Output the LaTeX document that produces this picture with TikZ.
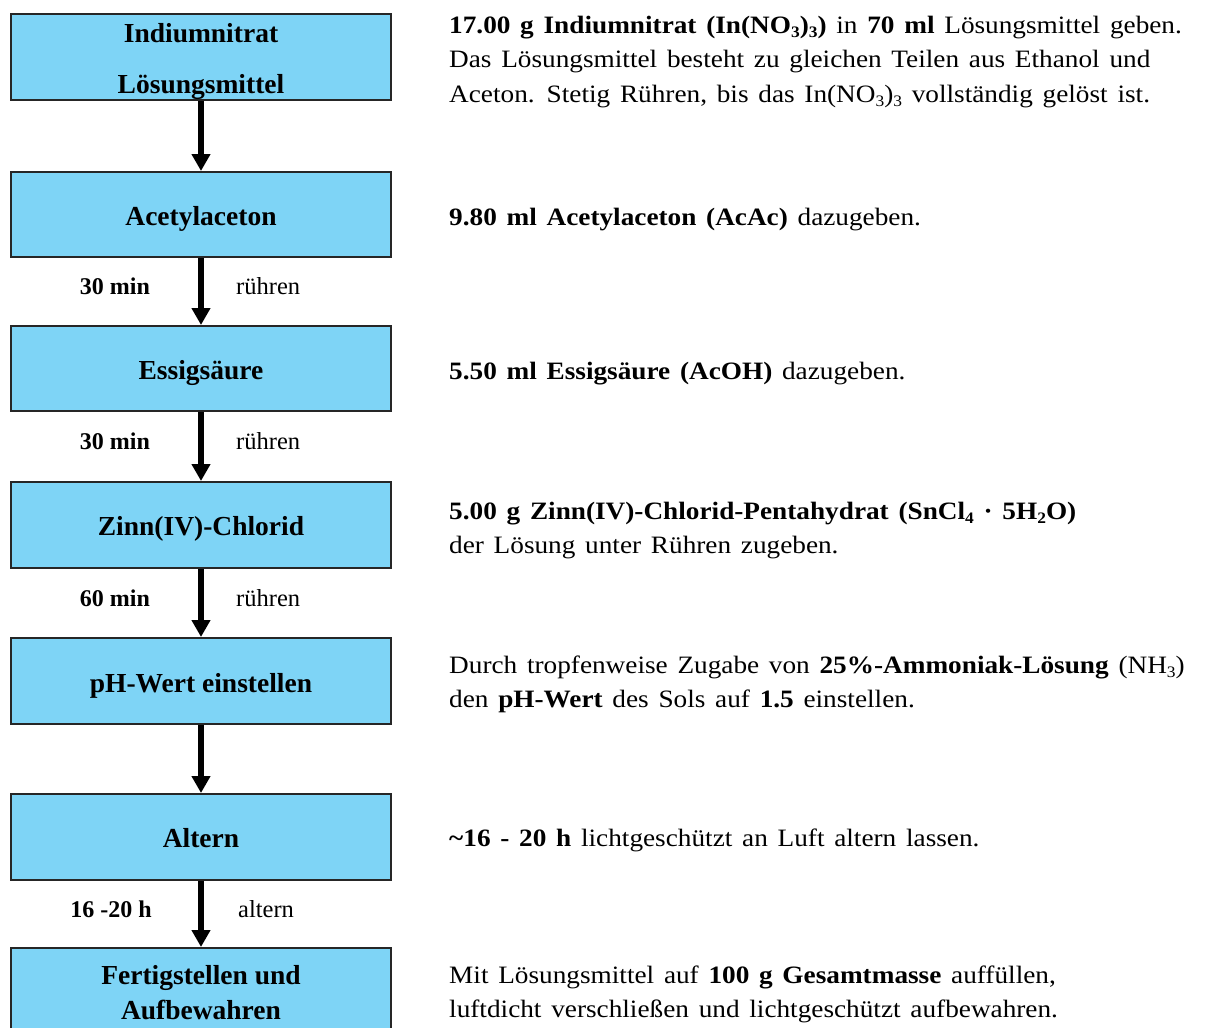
\documentclass[tikz,border=0pt]{standalone}
\usepackage{fontspec}
\setmainfont{Liberation Serif}
\newfontfamily\bodyfont[FakeStretch=1.09,WordSpace=1.43]{Liberation Serif}
\usetikzlibrary{arrows.meta}
\definecolor{boxfill}{RGB}{126,212,246}
\newcommand\chsub[1]{\raisebox{-0.35ex}{\fontsize{16}{16}\selectfont #1}}

\begin{document}
\begin{tikzpicture}[x=1pt,y=-1pt,
  stepbox/.style={rectangle, draw=black!85, line width=2pt, fill=boxfill,
    minimum width=380pt, inner sep=0pt},
  boxtext/.style={font=\fontsize{27.5}{27.5}\selectfont\bfseries, anchor=base, inner sep=0pt},
  desc/.style={font=\bodyfont\fontsize{25}{25}\selectfont, anchor=base west, inner sep=0pt},
  tlabel/.style={font=\fontsize{24}{24}\selectfont\bfseries, anchor=base, inner sep=0pt},
  alabel/.style={font=\fontsize{24.5}{24.5}\selectfont, anchor=base west, inner sep=0pt},
  flow/.style={line width=6pt, -{Triangle[width=18pt,length=17pt]}},
]
\useasboundingbox (0,0) rectangle (1208,1028);

% process steps
\node[stepbox, minimum height=86pt] (b1) at (201,57) {};
\node[stepbox, minimum height=85pt] (b2) at (201,214.5) {};
\node[stepbox, minimum height=85pt] (b3) at (201,368.5) {};
\node[stepbox, minimum height=86pt] (b4) at (201,525) {};
\node[stepbox, minimum height=86pt] (b5) at (201,681) {};
\node[stepbox, minimum height=86pt] (b6) at (201,837) {};
\node[stepbox, minimum height=88pt] (b7) at (201,992) {};

\node[boxtext] (t1a) at (201,42) {Indiumnitrat};
\node[boxtext] (t1b) at (201,93) {Lösungsmittel};
\node[boxtext] (t2) at (201,225) {Acetylaceton};
\node[boxtext] (t3) at (201,379) {Essigsäure};
\node[boxtext] (t4) at (201,535) {Zinn(IV)-Chlorid};
\node[boxtext] (t5) at (201,692) {pH-Wert einstellen};
\node[boxtext] (t6) at (201,847) {Altern};
\node[boxtext] (t7a) at (201,984) {Fertigstellen und};
\node[boxtext] (t7b) at (201,1019) {Aufbewahren};

% connectors
\draw[flow] (b1.south) -- (b2.north);
\draw[flow] (b2.south) -- (b3.north);
\draw[flow] (b3.south) -- (b4.north);
\draw[flow] (b4.south) -- (b5.north);
\draw[flow] (b5.south) -- (b6.north);
\draw[flow] (b6.south) -- (b7.north);

% times and actions beside the arrows
\node[tlabel] (l2) at (115,294) {30 min};
\node[alabel] (a2) at (236,294) {rühren};
\node[tlabel] (l3) at (115,449) {30 min};
\node[alabel] (a3) at (236,449) {rühren};
\node[tlabel] (l4) at (115,606) {60 min};
\node[alabel] (a4) at (236,606) {rühren};
\node[tlabel] (l6) at (111,917) {16 -20 h};
\node[alabel] (a6) at (238,917) {altern};

% descriptions
\node[desc] (d1a) at (449,33) {\textbf{17.00 g Indiumnitrat (In(NO\chsub{3})\chsub{3})} in \textbf{70 ml} Lösungsmittel geben.};
\node[desc] (d1b) at (449,67) {Das Lösungsmittel besteht zu gleichen Teilen aus Ethanol und};
\node[desc] (d1c) at (449,102) {Aceton. Stetig Rühren, bis das In(NO\chsub{3})\chsub{3} vollständig gelöst ist.};
\node[desc] (d2) at (449,225) {\textbf{9.80 ml Acetylaceton (AcAc)} dazugeben.};
\node[desc] (d3) at (449,379) {\textbf{5.50 ml Essigsäure (AcOH)} dazugeben.};
\node[desc] (d4a) at (449,519) {\textbf{5.00 g Zinn(IV)-Chlorid-Pentahydrat (SnCl\chsub{4} · 5H\chsub{2}O)}};
\node[desc] (d4b) at (449,553) {der Lösung unter Rühren zugeben.};
\node[desc] (d5a) at (449,673) {Durch tropfenweise Zugabe von \textbf{25\%-Ammoniak-Lösung} (NH\chsub{3})};
\node[desc] (d5b) at (449,707) {den \textbf{pH-Wert} des Sols auf \textbf{1.5} einstellen.};
\node[desc] (d6) at (449,846) {\textbf{\textasciitilde16 - 20 h} lichtgeschützt an Luft altern lassen.};
\node[desc] (d7a) at (449,983) {Mit Lösungsmittel auf \textbf{100 g Gesamtmasse} auffüllen,};
\node[desc] (d7b) at (449,1017) {luftdicht verschließen und lichtgeschützt aufbewahren.};
\end{tikzpicture}
\end{document}
